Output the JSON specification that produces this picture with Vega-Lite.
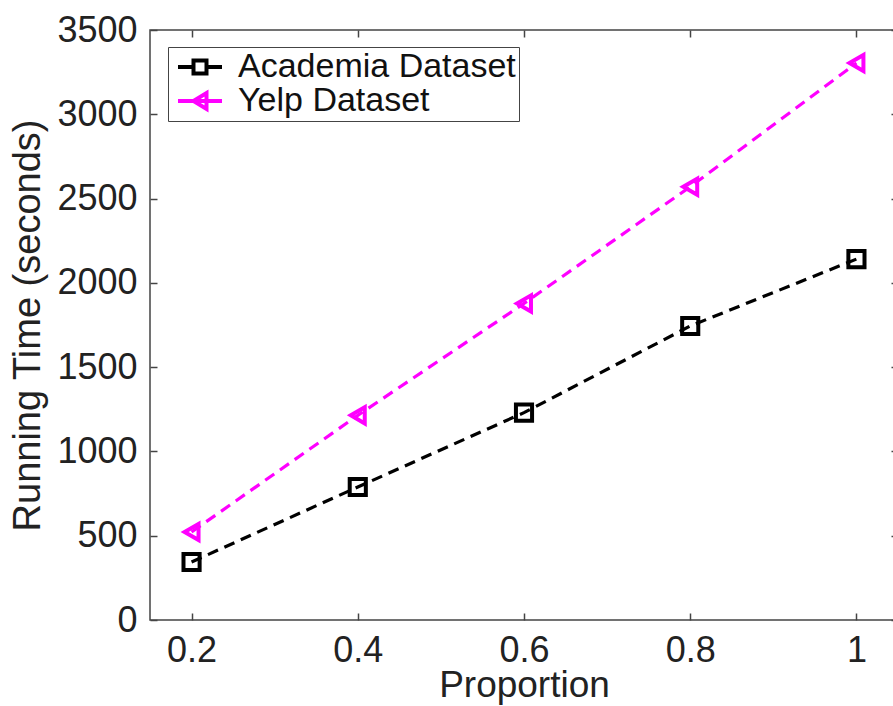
{
  "$schema": "https://vega.github.io/schema/vega-lite/v6.json",
  "width": 748,
  "height": 590,
  "autosize": {"type": "none"},
  "padding": {"left": 150, "top": 30, "right": 0, "bottom": 86},
  "background": "white",
  "config": {
    "font": "Liberation Sans",
    "view": {"stroke": "#444", "strokeWidth": 1.5},
    "axis": {
      "grid": false,
      "domainColor": "#444",
      "domainWidth": 1.5,
      "tickColor": "#444",
      "tickWidth": 1.5,
      "tickSize": -7,
      "labelFont": "Liberation Sans",
      "labelFontSize": 36,
      "labelColor": "#222",
      "titleFont": "Liberation Sans",
      "titleFontWeight": "normal",
      "titleColor": "#222"
    },
    "legend": {
      "orient": "none",
      "legendX": 18,
      "legendY": 17,
      "strokeColor": "#444",
      "fillColor": "white",
      "padding": 3,
      "labelFont": "Liberation Sans",
      "labelFontSize": 34,
      "labelColor": "#111",
      "labelLimit": 500,
      "symbolSize": 625,
      "symbolStrokeWidth": 4,
      "labelOffset": 21,
      "symbolOffset": 12,
      "rowPadding": 0
    }
  },
  "data": {
    "values": [
      {"Proportion": 0.2, "Time": 344, "Dataset": "Academia Dataset"},
      {"Proportion": 0.4, "Time": 789, "Dataset": "Academia Dataset"},
      {"Proportion": 0.6, "Time": 1230, "Dataset": "Academia Dataset"},
      {"Proportion": 0.8, "Time": 1744, "Dataset": "Academia Dataset"},
      {"Proportion": 1.0, "Time": 2141, "Dataset": "Academia Dataset"},
      {"Proportion": 0.2, "Time": 522, "Dataset": "Yelp Dataset"},
      {"Proportion": 0.4, "Time": 1214, "Dataset": "Yelp Dataset"},
      {"Proportion": 0.6, "Time": 1878, "Dataset": "Yelp Dataset"},
      {"Proportion": 0.8, "Time": 2570, "Dataset": "Yelp Dataset"},
      {"Proportion": 1.0, "Time": 3304, "Dataset": "Yelp Dataset"}
    ]
  },
  "layer": [
    {
      "mark": {"type": "line", "strokeWidth": 3.2, "strokeDash": [11, 7]},
      "encoding": {
        "x": {
          "field": "Proportion", "type": "quantitative",
          "scale": {"domain": [0.15, 1.05], "nice": false, "zero": false},
          "axis": {"orient": "bottom", "values": [0.2, 0.4, 0.6, 0.8, 1], "format": "~g", "labelPadding": 20, "title": "Proportion", "titleFontSize": 37, "titlePadding": -1, "domain": false}
        },
        "y": {
          "field": "Time", "type": "quantitative",
          "scale": {"domain": [0, 3500], "nice": false},
          "axis": {"orient": "left", "values": [0, 500, 1000, 1500, 2000, 2500, 3000, 3500], "format": "d", "labelPadding": 20, "title": "Running Time (seconds)", "titleFontSize": 38, "titlePadding": 9, "domain": false}
        },
        "color": {
          "field": "Dataset", "type": "nominal",
          "scale": {"domain": ["Academia Dataset", "Yelp Dataset"], "range": ["#000000", "#ff00ff"]},
          "legend": null
        },
        "detail": {"field": "Dataset"}
      }
    },
    {
      "mark": {"type": "point", "filled": false, "strokeWidth": 4, "opacity": 1},
      "encoding": {
        "x": {
          "field": "Proportion", "type": "quantitative",
          "scale": {"domain": [0.15, 1.05], "nice": false, "zero": false},
          "axis": {"orient": "top", "values": [0.2, 0.4, 0.6, 0.8, 1], "labels": false, "title": null, "domain": false}
        },
        "y": {
          "field": "Time", "type": "quantitative",
          "scale": {"domain": [0, 3500], "nice": false},
          "axis": {"orient": "right", "values": [0, 500, 1000, 1500, 2000, 2500, 3000, 3500], "labels": false, "title": null, "domain": false}
        },
        "color": {
          "field": "Dataset", "type": "nominal",
          "scale": {"domain": ["Academia Dataset", "Yelp Dataset"], "range": ["#000000", "#ff00ff"]},
          "legend": null
        },
        "shape": {
          "field": "Dataset", "type": "nominal",
          "scale": {"domain": ["Academia Dataset", "Yelp Dataset"], "range": ["square", "triangle-left"]},
          "legend": null
        },
        "size": {"value": 260}
      }
    },
    {
      "transform": [{"filter": "false"}],
      "mark": {"type": "point", "filled": false, "strokeWidth": 4, "opacity": 1},
      "encoding": {
        "x": {"field": "Proportion", "type": "quantitative", "axis": null},
        "y": {"field": "Time", "type": "quantitative", "axis": null},
        "stroke": {
          "field": "Dataset", "type": "nominal",
          "scale": {"domain": ["Academia Dataset", "Yelp Dataset"], "range": ["#000000", "#ff00ff"]},
          "legend": {"title": null}
        },
        "shape": {
          "field": "Dataset", "type": "nominal",
          "scale": {"domain": ["Academia Dataset", "Yelp Dataset"], "range": ["M-1.76,0H-0.52M0.52,0H1.76M-0.52,-0.52H0.52V0.52H-0.52Z", "M-1.76,0H1.76M-0.52,0L0.52,-0.64L0.52,0.64Z"]},
          "legend": {"title": null}
        }
      }
    }
  ],
  "resolve": {"axis": {"x": "independent", "y": "independent"}, "scale": {"shape": "independent", "stroke": "independent"}, "legend": {"shape": "independent", "stroke": "independent"}}
}
